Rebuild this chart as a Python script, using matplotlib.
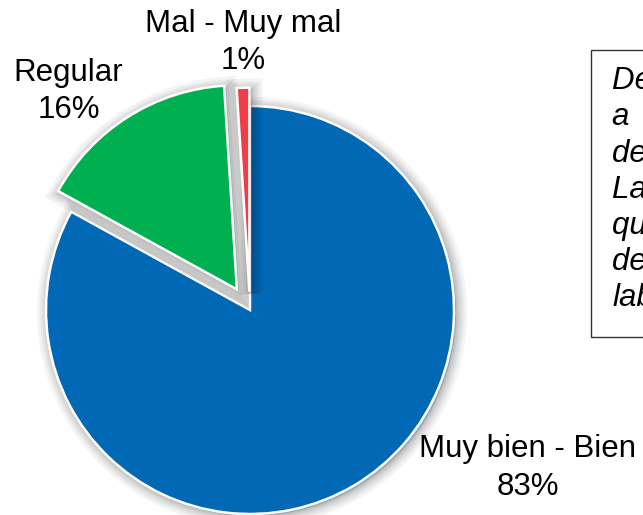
import matplotlib
matplotlib.use('Agg')
import matplotlib.pyplot as plt
import matplotlib.patheffects as pe
from matplotlib.patches import Rectangle

# Datos del gráfico
categorias = ['Muy bien - Bien', 'Regular', 'Mal - Muy mal']
porcentajes = [83, 16, 1]
colores = ['#0068B5', '#00B050', '#EE3F48']
separacion = [0, 0.12, 0.09]

# posiciones de las etiquetas (en unidades del radio)
pos_etiquetas = [(1.36, -0.775), (-0.89, 1.07), (-0.035, 1.31)]

texto_cuadro = ('De los trabajadores encuestados,\n'
                'a    la mayoría le parece muy bien\n'
                'del ambiente de trabajo actual.\n'
                'La minoría restante opina\n'
                'que es regular o mal el clima\n'
                'de convivencia dentro del\n'
                'laboratorio.')

plt.rcParams['font.family'] = ['Liberation Sans', 'DejaVu Sans']

fig = plt.figure(figsize=(6.43, 5.15), dpi=100)
ax = fig.add_axes([0, 0, 1, 1])

wedges, _ = ax.pie(porcentajes, colors=colores, explode=separacion,
                   startangle=90, counterclock=False, radius=1.0,
                   wedgeprops=dict(edgecolor='white', linewidth=1.8),
                   frame=True)
ax.set_xlim(-1.2255, 1.9265)
ax.set_ylim(-1.0049, 1.5196)
ax.set_aspect('auto')
ax.axis('off')

# sombra difusa alrededor de cada sector
sombra = [pe.Stroke(linewidth=w, foreground='black', alpha=0.045, offset=(1.5, -1.5))
          for w in (16, 12, 9, 6, 4, 2)]
for w in wedges:
    w.set_path_effects(sombra + [pe.Normal()])

for cat, pct, (x, y) in zip(categorias, porcentajes, pos_etiquetas):
    ax.text(x, y, f'{cat}\n{pct}%', ha='center', va='center',
            fontsize=22.5, color='black', linespacing=1.32)

# cuadro de texto (cortado por el borde derecho)
ax.add_patch(Rectangle((1.672, -0.132), 1.0, 1.407, fill=False,
                       edgecolor='#333333', linewidth=1.0, clip_on=False))
ax.text(1.775, 1.195, texto_cuadro, ha='left', va='top', fontsize=22.5,
        style='italic', linespacing=1.27, clip_on=False)

fig.savefig('out.png', dpi=100)
